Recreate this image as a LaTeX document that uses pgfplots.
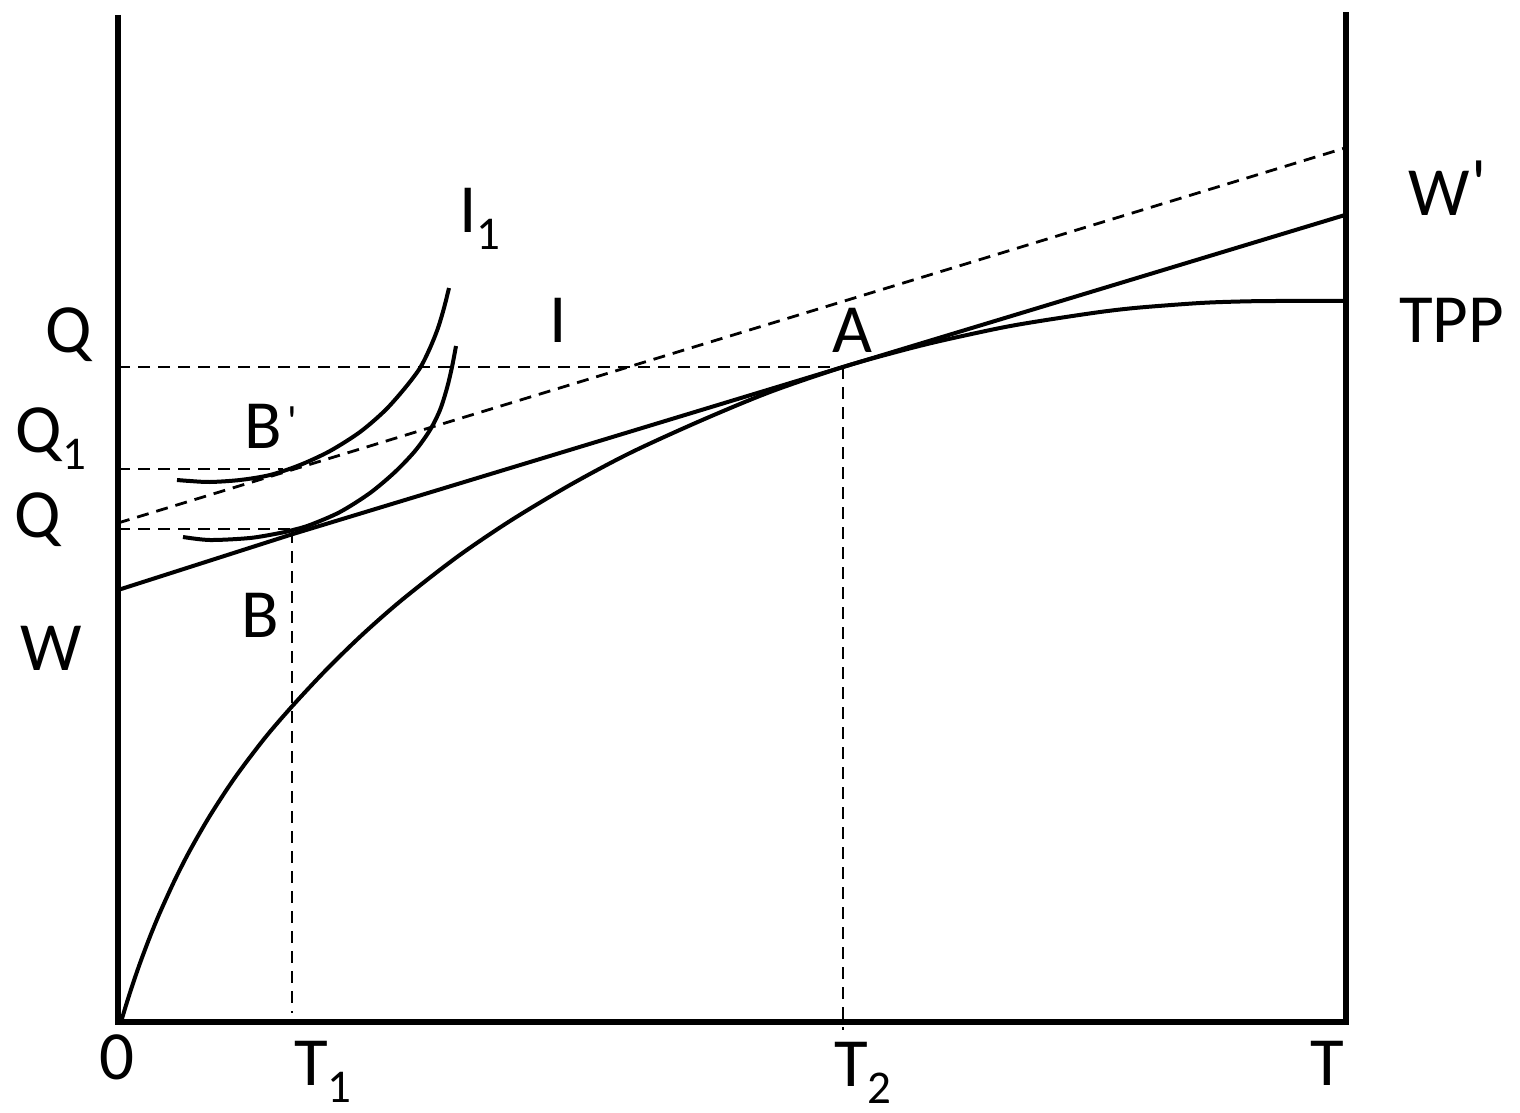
\documentclass[border=0pt]{standalone}
\usepackage{fontspec}
\setmainfont{Carlito}
\newfontfamily\qfont{Carlito}
\usepackage{pgfplots}
\pgfplotsset{compat=1.18}
\newcommand{\sub}[1]{\raisebox{-8.5pt}{\fontsize{23.5}{24}\selectfont #1}}
\newcommand{\prB}{\hspace{3pt}\raisebox{6pt}{\qfont\fontsize{22}{22}\selectfont '}}
\newcommand{\prW}{\hspace{1pt}\raisebox{4pt}{\qfont '}}
\tikzset{
  lab/.style={font=\fontsize{34.5}{40}\selectfont, inner sep=0pt, outer sep=0pt, anchor=base west},
  dsh/.style={black, line width=1.4pt, dash pattern=on 6pt off 4pt},
}
\begin{document}
\begin{tikzpicture}
\begin{axis}[
  scale only axis, width=760pt, height=556.5pt,
  xmin=0, xmax=1520, ymin=0, ymax=1113, y dir=reverse,
  hide axis, clip=false,
]
\path (axis cs:0,0) rectangle (axis cs:1520,1113);
% frame
\addplot[black, line width=2.8pt, line join=miter] coordinates {(118,15) (118,1022) (1346,1022) (1346,12)};
% dashed guide lines
\addplot[dsh] coordinates {(118,367) (843,367)};
\addplot[dsh] coordinates {(843,367) (843,1030)};
\addplot[dsh] coordinates {(118,469) (283,469)};
\addplot[dsh] coordinates {(118,529) (292,529)};
\addplot[dsh] coordinates {(292,531) (292,1013)};
% dashed budget line W'
\addplot[dsh] coordinates {(118,523) (1345,148)};
% budget line W
\addplot[black, line width=2pt] coordinates {(118,590) (293,534) (843,367) (1345,215)};
% TPP
\addplot[black, line width=2pt, smooth] coordinates {
(121,1022) (123,1015.2) (126,1005.3) (130,992.6) (135,977.5) (141,960.4) (150,936.6)
(160,912.4) (175,879.6) (190,850.3) (210,815.6) (235,777.5) (265,737.8) (293,705.3)
(327,669) (363,634) (403,599) (457,557) (510,521) (570,485) (630,453)
(700,421) (770,392) (843,367) (900,351) (940,341) (1000,328) (1040,321)
(1100,312) (1140,307.5) (1200,303) (1240,301.5) (1275,301) (1345,301)};
% indifference curve I
\addplot[black, line width=2pt, smooth] coordinates {
(183,537) (210,540) (250,538) (280,533) (293,530) (310,525) (340,512) (370,493)
(395,472) (415,451) (430,430) (440,410) (447,388) (452,367) (456,346)};
% indifference curve I1
\addplot[black, line width=2pt, smooth] coordinates {
(177,480) (190,481) (210,482) (240,480) (270,475) (300,465) (330,451) (360,432)
(385,410.5) (405,388) (420,368) (430,348) (438,328) (444,308) (449,288)};
% labels
\node[lab] at (axis cs:459,232) {I\sub{1}};
\node[lab] at (axis cs:549,342) {I};
\node[lab] at (axis cs:832,352) {A};
\node[lab] at (axis cs:46,352) {Q};
\node[lab] at (axis cs:16,452) {Q\sub{1}};
\node[lab] at (axis cs:14,537) {Q};
\node[lab] at (axis cs:20,670) {W};
\node[lab] at (axis cs:244,448) {B\prB};
\node[lab] at (axis cs:241,637) {B};
\node[lab] at (axis cs:1408,215) {W\prW};
\node[lab] at (axis cs:1399,342) {TPP};
\node[lab] at (axis cs:99,1079) {0};
\node[lab] at (axis cs:294,1085) {T\sub{1}};
\node[lab] at (axis cs:834,1086) {T\sub{2}};
\node[lab] at (axis cs:1310,1085) {T};
\end{axis}
\end{tikzpicture}
\end{document}
